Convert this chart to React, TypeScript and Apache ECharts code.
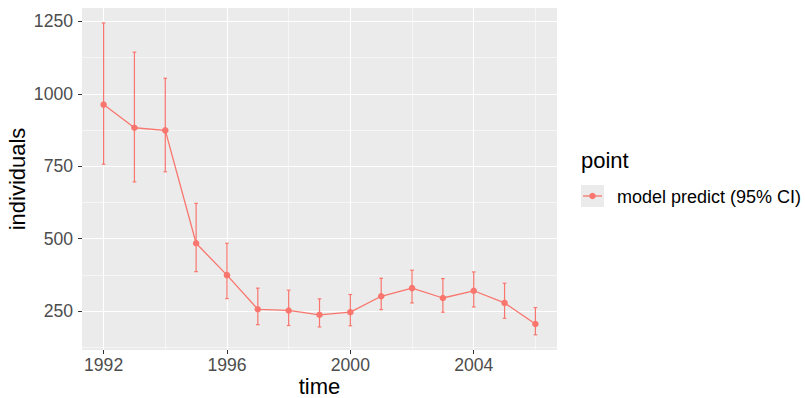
import React, { useEffect, useRef } from "react";
import * as echarts from "echarts";

// Yearly model predictions with 95% confidence bounds
const years = [1992, 1993, 1994, 1995, 1996, 1997, 1998, 1999, 2000, 2001, 2002, 2003, 2004, 2005, 2006];
const predicted = [963, 883, 874, 484, 374, 256, 252, 237, 246, 301, 329, 295, 320, 278, 205];
const lower95 = [757, 696, 731, 386, 293, 203, 200, 195, 199, 255, 278, 246, 264, 225, 168];
const upper95 = [1245, 1144, 1054, 622, 484, 329, 322, 292, 307, 363, 391, 362, 385, 346, 262];

const xTicks = [1992, 1996, 2000, 2004];
const xMinor = [1994, 1998, 2002, 2006];
const yTicks = [250, 500, 750, 1000, 1250];
const yMinor = [125, 375, 625, 875, 1125];

const seriesName = "model predict (95% CI)";
const legendTitle = "point";

const RED = "#F8766D";
const FONT = "Liberation Sans, Arial, Helvetica, sans-serif";

export default function App() {
  const ref = useRef<HTMLDivElement>(null);

  useEffect(() => {
    if (!ref.current) return;
    document.body.style.margin = "0";
    const chart = echarts.init(ref.current, null, { renderer: "svg" });

    const gridLines = [
      ...xTicks.map((v) => ({ xAxis: v, lineStyle: { width: 1.1 } })),
      ...xMinor.map((v) => ({ xAxis: v, lineStyle: { width: 0.55 } })),
      ...yTicks.map((v) => ({ yAxis: v, lineStyle: { width: 1.1 } })),
      ...yMinor.map((v) => ({ yAxis: v, lineStyle: { width: 0.55 } })),
    ];

    const points = years.map((y, i) => [y, predicted[i]]);
    const bars = years.map((y, i) => [y, lower95[i], upper95[i]]);

    chart.setOption({
      animation: false,
      grid: {
        left: 82,
        right: 248,
        top: 8,
        bottom: 48,
        show: true,
        backgroundColor: "#EBEBEB",
        borderWidth: 0,
      },
      xAxis: {
        type: "value",
        min: 1991.3,
        max: 2006.7,
        axisLine: { show: false },
        splitLine: { show: false },
        axisTick: {
          show: true,
          customValues: xTicks,
          length: 4,
          lineStyle: { color: "#333333", width: 1 },
        },
        axisLabel: {
          customValues: xTicks,
          formatter: (v: number) => String(v),
          color: "#4D4D4D",
          fontSize: 17.6,
          fontFamily: FONT,
          margin: 6,
        },
      },
      yAxis: {
        type: "value",
        min: 115.4,
        max: 1296.6,
        axisLine: { show: false },
        splitLine: { show: false },
        axisTick: {
          show: true,
          customValues: yTicks,
          length: 4,
          lineStyle: { color: "#333333", width: 1 },
        },
        axisLabel: {
          customValues: yTicks,
          formatter: (v: number) => String(v),
          color: "#4D4D4D",
          fontSize: 17.6,
          fontFamily: FONT,
          margin: 9,
        },
      },
      series: [
        {
          type: "line",
          data: [],
          z: 1,
          silent: true,
          markLine: {
            z: 1,
            silent: true,
            symbol: "none",
            label: { show: false },
            lineStyle: { color: "#FFFFFF", type: "solid" },
            data: gridLines,
          },
        },
        {
          type: "custom",
          z: 3,
          data: bars,
          renderItem: (params: any, api: any) => {
            const x = api.value(0);
            const lo = api.coord([x, api.value(1)]);
            const hi = api.coord([x, api.value(2)]);
            const cap = 1.8;
            const style = { stroke: RED, lineWidth: 1.2 };
            return {
              type: "group",
              children: [
                { type: "line", shape: { x1: lo[0], y1: lo[1], x2: hi[0], y2: hi[1] }, style },
                { type: "line", shape: { x1: lo[0] - cap, y1: lo[1], x2: lo[0] + cap, y2: lo[1] }, style },
                { type: "line", shape: { x1: hi[0] - cap, y1: hi[1], x2: hi[0] + cap, y2: hi[1] }, style },
              ],
            };
          },
        },
        {
          type: "line",
          name: seriesName,
          z: 4,
          data: points,
          symbol: "circle",
          symbolSize: 6.5,
          lineStyle: { color: RED, width: 1.3 },
          itemStyle: { color: RED },
        },
      ],
      graphic: [
        {
          type: "text",
          x: 17,
          y: 179,
          rotation: Math.PI / 2,
          style: {
            text: "individuals",
            align: "center",
            verticalAlign: "middle",
            fill: "#000000",
            font: `22px ${FONT}`,
          },
        },
        {
          type: "text",
          x: 319.5,
          y: 386,
          style: {
            text: "time",
            align: "center",
            verticalAlign: "middle",
            fill: "#000000",
            font: `22px ${FONT}`,
          },
        },
        {
          type: "text",
          x: 581,
          y: 160.5,
          style: {
            text: legendTitle,
            align: "left",
            verticalAlign: "middle",
            fill: "#000000",
            font: `22px ${FONT}`,
          },
        },
        {
          type: "rect",
          shape: { x: 581, y: 185, width: 23, height: 22 },
          style: { fill: "#EBEBEB" },
        },
        {
          type: "line",
          shape: { x1: 583, y1: 196, x2: 602, y2: 196 },
          style: { stroke: RED, lineWidth: 1.3 },
        },
        {
          type: "circle",
          shape: { cx: 592.5, cy: 196, r: 3.25 },
          style: { fill: RED },
        },
        {
          type: "text",
          x: 617,
          y: 196.5,
          style: {
            text: seriesName,
            align: "left",
            verticalAlign: "middle",
            fill: "#000000",
            font: `18px ${FONT}`,
          },
        },
      ],
    });

    return () => chart.dispose();
  }, []);

  return <div ref={ref} style={{ width: 805, height: 398 }} />;
}
